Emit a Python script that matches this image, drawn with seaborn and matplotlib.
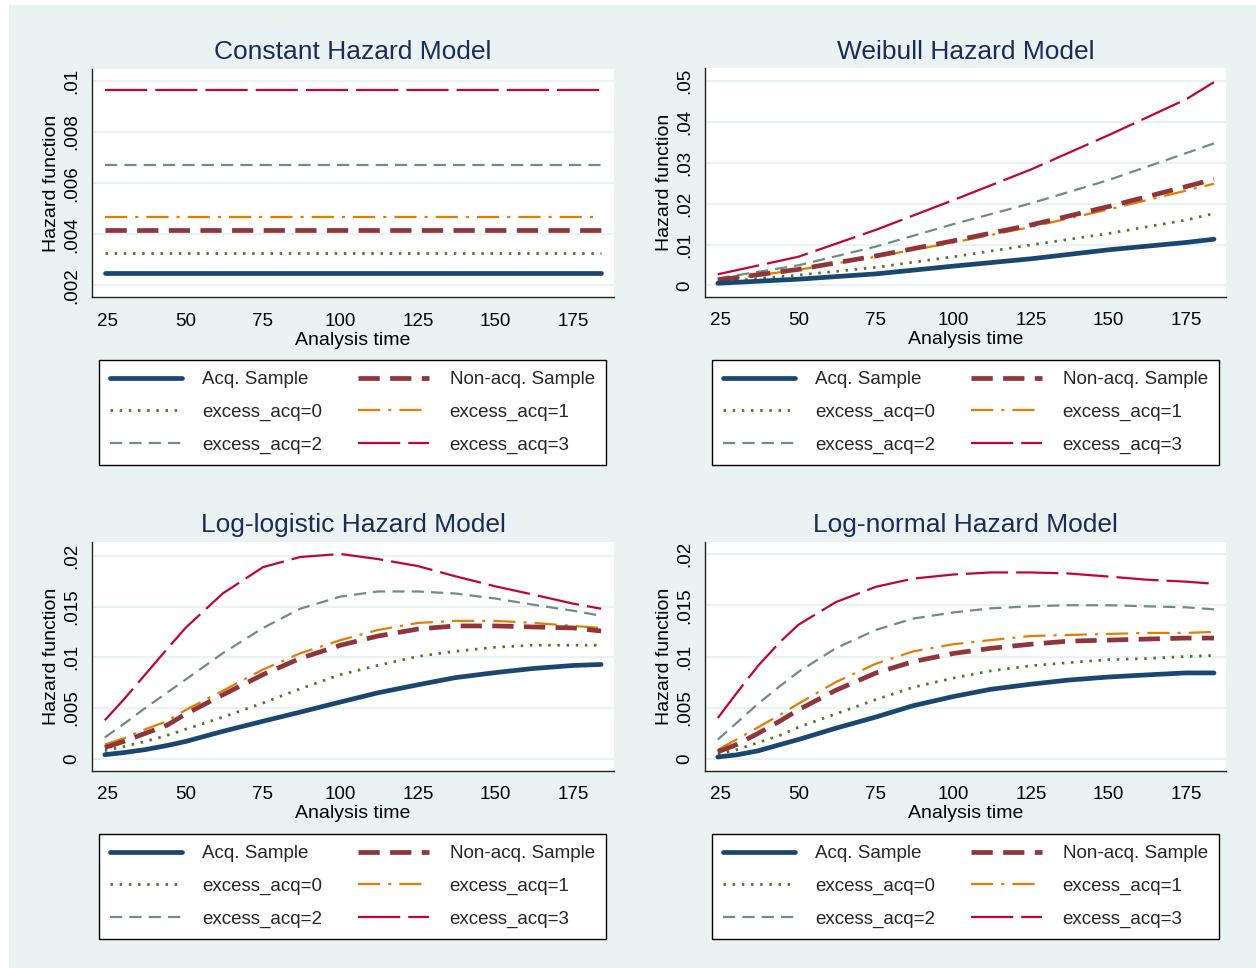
import matplotlib
matplotlib.use("Agg")
import matplotlib.pyplot as plt
import matplotlib.patches as mpatches
import seaborn as sns
import pandas as pd

sns.set_theme(style="white")
plt.rcParams['font.family'] = ['Liberation Sans', 'DejaVu Sans']

# ---------------- data ----------------
series_names = ["Acq. Sample", "Non-acq. Sample", "excess_acq=0",
                "excess_acq=1", "excess_acq=2", "excess_acq=3"]
panel_titles = ["Constant Hazard Model", "Weibull Hazard Model",
                "Log-logistic Hazard Model", "Log-normal Hazard Model"]
x_label = "Analysis time"
y_label = "Hazard function"
x_ticks = [25, 50, 75, 100, 125, 150, 175]

# Constant hazard
t_const = [24, 184]
const_acq = [0.00250, 0.00250]
const_nonacq = [0.00416, 0.00416]
const_ex0 = [0.00325, 0.00325]
const_ex1 = [0.00467, 0.00467]
const_ex2 = [0.00670, 0.00670]
const_ex3 = [0.00965, 0.00965]
const_yticks = [0.002, 0.004, 0.006, 0.008, 0.010]
const_yticklabels = [".002", ".004", ".006", ".008", ".01"]

# Weibull hazard
t_weib = [24, 50, 75, 100, 125, 150, 175, 184]
weib_acq = [0.0005, 0.0015, 0.0028, 0.0047, 0.0065, 0.0087, 0.0105, 0.0113]
weib_nonacq = [0.0013, 0.0039, 0.0072, 0.0109, 0.0148, 0.0193, 0.0242, 0.0260]
weib_ex0 = [0.0008, 0.0025, 0.0044, 0.0070, 0.0099, 0.0127, 0.0160, 0.0176]
weib_ex1 = [0.0012, 0.0038, 0.0070, 0.0105, 0.0143, 0.0186, 0.0232, 0.0249]
weib_ex2 = [0.0017, 0.0049, 0.0095, 0.0150, 0.0201, 0.0258, 0.0324, 0.0348]
weib_ex3 = [0.0027, 0.0070, 0.0136, 0.0209, 0.0284, 0.0368, 0.0456, 0.0498]
weib_yticks = [0, 0.01, 0.02, 0.03, 0.04, 0.05]
weib_yticklabels = ["0", ".01", ".02", ".03", ".04", ".05"]

# Log-logistic hazard
t_curve = [24, 30, 37, 44, 50, 62, 75, 87, 100, 112, 125, 137, 150, 162, 175, 184]
ll_acq = [.0004, .0006, .0009, .0013, .0017, .0027, .0037, .0046, .0056, .0065, .0073, .0080, .0085, .0089, .0092, .0093]
ll_nonacq = [.0011, .0017, .0025, .0033, .0044, .0063, .0083, .0099, .0112, .0121, .0128, .0131, .0131, .0130, .0129, .0126]
ll_ex0 = [.0008, .0012, .0017, .0023, .0029, .0041, .0055, .0069, .0083, .0092, .0101, .0106, .0110, .0112, .0112, .0112]
ll_ex1 = [.0014, .0020, .0029, .0037, .0048, .0067, .0088, .0104, .0117, .0127, .0134, .0136, .0136, .0134, .0131, .0129]
ll_ex2 = [.0021, .0034, .0050, .0065, .0078, .0104, .0129, .0148, .0160, .0165, .0165, .0163, .0158, .0152, .0146, .0141]
ll_ex3 = [.0038, .0058, .0083, .0108, .0129, .0163, .0189, .0199, .0202, .0197, .0190, .0180, .0170, .0162, .0153, .0148]
ll_yticks = [0, 0.005, 0.01, 0.015, 0.02]
ll_yticklabels = ["0", ".005", ".01", ".015", ".02"]

# Log-normal hazard
ln_acq = [.0002, .0004, .0008, .0014, .0019, .0030, .0041, .0052, .0061, .0068, .0073, .0077, .0080, .0082, .0084, .0084]
ln_nonacq = [.0007, .0014, .0025, .0037, .0048, .0067, .0084, .0095, .0103, .0108, .0112, .0115, .0116, .0117, .0118, .0118]
ln_ex0 = [.0005, .0009, .0016, .0023, .0031, .0044, .0058, .0070, .0079, .0086, .0091, .0094, .0097, .0098, .0100, .0101]
ln_ex1 = [.0009, .0019, .0031, .0043, .0054, .0075, .0093, .0105, .0112, .0116, .0120, .0121, .0122, .0123, .0123, .0124]
ln_ex2 = [.0019, .0035, .0054, .0071, .0085, .0108, .0126, .0137, .0143, .0147, .0149, .0150, .0150, .0149, .0148, .0146]
ln_ex3 = [.0040, .0064, .0091, .0114, .0131, .0153, .0168, .0176, .0180, .0182, .0182, .0181, .0178, .0175, .0173, .0171]
ln_yticks = [0, 0.005, 0.01, 0.015, 0.02]
ln_yticklabels = ["0", ".005", ".01", ".015", ".02"]

# ---------------- styles ----------------
colors = ["#1A476F", "#90353B", "#55752F", "#E37E00", "#6E8E84", "#C10534"]
widths = [3.4, 3.4, 2.0, 1.6, 1.6, 1.6]
styles = ["-", (0, (4.5, 2.2)), (0, (0.9, 2.4)), (0, (10, 3.6, 1.4, 3.6)),
          (0, (5.5, 3.2)), (0, (19, 3.6))]
BG = "#EAF2F3"
TITLE_C = "#1C2B5A"

W, H = 1256, 968
fig = plt.figure(figsize=(W / 100, H / 100), dpi=100, facecolor="white")
fig.patches.append(mpatches.Rectangle((9 / W, -0.01), 1, 1.01 - 5 / H, transform=fig.transFigure,
                                      facecolor=BG, edgecolor="none", zorder=-10))

def fbox(l, t, r, b):
    return [l / W, 1 - b / H, (r - l) / W, (b - t) / H]

panels = [
    dict(box=(92.4, 69, 613.5, 297.3), leg=(99, 360, 606, 463), t=t_const,
         ys=[const_acq, const_nonacq, const_ex0, const_ex1, const_ex2, const_ex3],
         ylim=(0.00153, 0.01047), yt=const_yticks, ytl=const_yticklabels),
    dict(box=(705.4, 68.3, 1226.4, 297), leg=(712, 360, 1219, 463), t=t_weib,
         ys=[weib_acq, weib_nonacq, weib_ex0, weib_ex1, weib_ex2, weib_ex3],
         ylim=(-0.00287, 0.0532), yt=weib_yticks, ytl=weib_yticklabels),
    dict(box=(92.4, 541.7, 613.5, 770.7), leg=(99, 834, 606, 936), t=t_curve,
         ys=[ll_acq, ll_nonacq, ll_ex0, ll_ex1, ll_ex2, ll_ex3],
         ylim=(-0.00118, 0.02141), yt=ll_yticks, ytl=ll_yticklabels),
    dict(box=(705.4, 541.7, 1226.4, 771), leg=(712, 834, 1219, 936), t=t_curve,
         ys=[ln_acq, ln_nonacq, ln_ex0, ln_ex1, ln_ex2, ln_ex3],
         ylim=(-0.00117, 0.0212), yt=ln_yticks, ytl=ln_yticklabels),
]

draw_order = [5, 4, 3, 2, 1, 0]
for p, title in zip(panels, panel_titles):
    ax = fig.add_axes(fbox(*p["box"]))
    ax.set_facecolor("white")
    for i in draw_order:
        df = pd.DataFrame({"t": p["t"], "h": p["ys"][i]})
        sns.lineplot(data=df, x="t", y="h", ax=ax, color=colors[i], linewidth=widths[i],
                     linestyle=styles[i], label=series_names[i], sort=False,
                     estimator=None, zorder=3)
    ax.set_xlim(20, 188)
    ax.set_ylim(*p["ylim"])
    ax.set_xticks(x_ticks)
    ax.set_xticklabels([str(v) for v in x_ticks])
    ax.set_yticks(p["yt"])
    ax.set_yticklabels(p["ytl"], rotation=90, va="center")
    ax.yaxis.grid(True, color=BG, linewidth=1.6, zorder=0)
    ax.xaxis.grid(False)
    ax.set_axisbelow(True)
    for s in ["top", "right"]:
        ax.spines[s].set_visible(False)
    for s in ["left", "bottom"]:
        ax.spines[s].set_color("#222222")
        ax.spines[s].set_linewidth(1.0)
    ax.tick_params(axis="both", which="major", length=6, width=1.0, color="#222222",
                   labelsize=13.5, labelcolor="black", direction="out")
    ax.tick_params(axis="x", pad=5)
    ax.tick_params(axis="y", pad=3)
    ax.set_xlabel(x_label, fontsize=14, labelpad=1.5, color="black")
    ax.set_ylabel(y_label, fontsize=14, labelpad=2, color="black")
    ax.set_title(title, fontsize=19, color=TITLE_C, pad=7)

    handles, labels = ax.get_legend_handles_labels()
    lab2h = dict(zip(labels, handles))
    order = [0, 2, 4, 1, 3, 5]
    l, t, r, b = p["leg"]
    leg = ax.legend([lab2h[series_names[k]] for k in order],
                    [series_names[k] for k in order],
                    ncol=2, loc="upper left", mode="expand",
                    bbox_to_anchor=(l / W, 1 - t / H, (r - l) / W, 0.0001),
                    bbox_transform=fig.transFigure,
                    fontsize=13.5, frameon=True, fancybox=False, shadow=False,
                    edgecolor="black", facecolor="white", framealpha=1,
                    handlelength=3.8, handletextpad=1.1, labelspacing=0.82,
                    borderpad=0.6, borderaxespad=0, columnspacing=1.5)
    leg.get_frame().set_linewidth(1.0)

fig.savefig("out.png", dpi=100, facecolor=fig.get_facecolor())
